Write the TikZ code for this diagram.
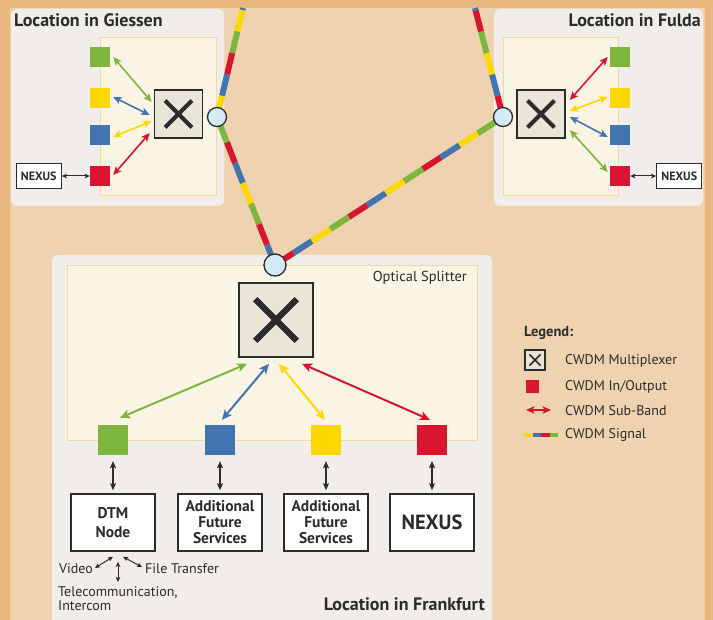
\documentclass[tikz,border=0pt]{standalone}
\usepackage{fontspec}
\setmainfont{PT Sans}
\usepackage{xcolor}
\definecolor{cFrame}{HTML}{E8B87E}
\definecolor{cBack}{HTML}{EFD3B0}
\definecolor{cPanel}{HTML}{F0EDEA}
\definecolor{cInner}{HTML}{FAF4E5}
\definecolor{cInnerLine}{HTML}{EEDA9A}
\definecolor{cGreen}{HTML}{7DB63F}
\definecolor{cYellow}{HTML}{FDD800}
\definecolor{cBlue}{HTML}{4274B0}
\definecolor{cRed}{HTML}{D9142E}
\definecolor{cMux}{HTML}{E9E6D9}
\definecolor{cJoint}{HTML}{D4EAF8}
\definecolor{cText}{HTML}{2B2B2B}
\usepackage{tikz}
\usetikzlibrary{positioning,arrows.meta}
\tikzset{
  panel/.style={fill=cPanel,rounded corners=6pt},
  inner-box/.style={fill=cInner,draw=cInnerLine,line width=1pt},
  mux/.style={draw=cText,line width=1.6pt,fill=cMux,inner sep=0pt,minimum size=#1pt,
    path picture={
      \draw[cText,line width=#1*0.085pt,shorten <=#1*0.31pt,shorten >=#1*0.31pt]
        (path picture bounding box.south west) -- (path picture bounding box.north east);
      \draw[cText,line width=#1*0.085pt,shorten <=#1*0.31pt,shorten >=#1*0.31pt]
        (path picture bounding box.north west) -- (path picture bounding box.south east);}},
  io-sq/.style={inner sep=0pt,minimum size=#1pt},
  junction/.style={circle,draw=cText,line width=1.3pt,fill=cJoint,inner sep=0pt,minimum size=#1pt},
  % one colour per wavelength, the four dash patterns interleave
  fiber/.style n args={4}{line width=6pt,
    postaction={draw=#1,dash pattern=on 22pt off 66pt},
    postaction={draw=#2,dash pattern=on 22pt off 66pt,dash phase=66pt},
    postaction={draw=#3,dash pattern=on 22pt off 66pt,dash phase=44pt},
    postaction={draw=#4,dash pattern=on 22pt off 66pt,dash phase=22pt}},
  fiber-key/.style={line width=3.6pt,
    postaction={draw=cYellow,dash pattern=on 8.5pt off 25.5pt},
    postaction={draw=cBlue,dash pattern=on 8.5pt off 25.5pt,dash phase=25.5pt},
    postaction={draw=cRed,dash pattern=on 8.5pt off 25.5pt,dash phase=17pt},
    postaction={draw=cGreen,dash pattern=on 8.5pt off 25.5pt,dash phase=8.5pt}},
  band/.style={{Stealth[length=10pt,width=9pt,inset=2.5pt]}-{Stealth[length=10pt,width=9pt,inset=2.5pt]},
    line width=2pt,draw=#1},
  band-s/.style={{Stealth[length=8.5pt,width=7.5pt,inset=2pt]}-{Stealth[length=8.5pt,width=7.5pt,inset=2pt]},
    line width=1.6pt,draw=#1},
  io-arrow/.style={{Stealth[length=7pt,width=6pt,inset=1.5pt]}-{Stealth[length=7pt,width=6pt,inset=1.5pt]},
    line width=1.3pt,draw=cText},
  io-arrow-s/.style={{Stealth[length=5pt,width=4.5pt,inset=1pt]}-{Stealth[length=5pt,width=4.5pt,inset=1pt]},
    line width=1pt,draw=cText},
  title-txt/.style={font=\fontsize{18}{20}\selectfont\bfseries,text=cText,inner sep=0pt},
  note-txt/.style={font=\fontsize{14}{14}\selectfont,text=cText,inner sep=0pt},
  svc-box/.style={draw=cText,line width=1.6pt,fill=white,minimum width=84pt,minimum height=57pt,
    align=center,inner sep=2pt,text=cText,font=\fontsize{15.5}{16}\selectfont\bfseries},
  nexus-s/.style={draw=cText,line width=1.2pt,fill=white,minimum width=45pt,minimum height=25pt,
    inner sep=1pt,text=cText,font=\fontsize{12}{13}\selectfont\bfseries},
}

\begin{document}
\begin{tikzpicture}[x=1pt,y=-1pt]
  \useasboundingbox (0,0) rectangle (713,620);
  \fill[cBack] (0,0) rectangle (713,620);
  \fill[cFrame] (0,0) rectangle (10,620) (0,0) rectangle (713,8) (705,0) rectangle (713,620);

  % sites
  \fill[panel] (11,9) rectangle (224,206);
  \fill[panel] (494,9) rectangle (703,206);
  \fill[panel] (52,255) rectangle (492,640);
  \filldraw[inner-box] (100,38) rectangle (216,196);
  \filldraw[inner-box] (503,38) rectangle (618,196);
  \filldraw[inner-box] (67,266) rectangle (477,441);

  \node[title-txt,anchor=west] (tGi) at (14,20) {Location in Giessen};
  \node[title-txt,anchor=east] (tFu) at (701,20) {Location in Fulda};
  \node[title-txt,anchor=east] (tFf) at (485,604) {Location in Frankfurt};
  \node[note-txt,anchor=east,font=\fontsize{14.5}{15}\selectfont] (tSplit) at (467,278) {Optical Splitter};

  % fibre ring
  \coordinate (jGi) at (217,117);
  \coordinate (jFu) at (503,117);
  \coordinate (jFf) at (275,265);
  \coordinate (upGi) at (243,8);
  \coordinate (upFu) at (475,8);
  \path[fiber={cYellow}{cBlue}{cRed}{cGreen}] (jGi) -- (upGi);
  \path[fiber={cRed}{cBlue}{cYellow}{cGreen}] (jFu) -- (upFu);
  \path[fiber={cBlue}{cRed}{cGreen}{cYellow}] (jFf) -- (jGi);
  \path[fiber={cRed}{cBlue}{cYellow}{cGreen}] (jFf) -- (jFu);
  \node[junction=19] (cGi) at (jGi) {};
  \node[junction=19] (cFu) at (jFu) {};
  \node[junction=22] (cFf) at (jFf) {};

  % Giessen
  \node[mux=48] (giMux) at (178.5,114) {};
  \node[io-sq=20,fill=cGreen]  (giG) at (100,57) {};
  \node[io-sq=20,fill=cYellow] (giY) at (100,98) {};
  \node[io-sq=20,fill=cBlue]   (giB) at (100,135) {};
  \node[io-sq=20,fill=cRed]    (giR) at (100,176) {};
  \node[nexus-s,left=28pt of giR] (giNx) {NEXUS};
  \draw[band-s=cGreen]  ([xshift=3pt]giG.east) -- ([xshift=-2pt,yshift=12pt]giMux.west);
  \draw[band-s=cBlue]   ([xshift=3pt,yshift=1pt]giY.east) -- ([xshift=-4pt,yshift=-1pt]giMux.west);
  \draw[band-s=cYellow] ([xshift=3pt,yshift=-2pt]giB.east) -- ([xshift=-2pt,yshift=-7pt]giMux.west);
  \draw[band-s=cRed]    ([xshift=3pt,yshift=1pt]giR.east) -- ([xshift=-4pt,yshift=-19pt]giMux.west);
  \draw[io-arrow-s] (giNx) -- (giR);

  % Fulda
  \node[mux=48] (fuMux) at (541,114) {};
  \node[io-sq=20,fill=cGreen]  (fuG) at (620,57) {};
  \node[io-sq=20,fill=cYellow] (fuY) at (620,98) {};
  \node[io-sq=20,fill=cBlue]   (fuB) at (620,135) {};
  \node[io-sq=20,fill=cRed]    (fuR) at (620,176) {};
  \node[nexus-s,right=26pt of fuR] (fuNx) {NEXUS};
  \draw[band-s=cRed]    ([xshift=4pt,yshift=14pt]fuMux.east) -- ([xshift=-2pt]fuG.west);
  \draw[band-s=cYellow] ([xshift=4pt,yshift=3pt]fuMux.east) -- ([xshift=-2pt,yshift=1pt]fuY.west);
  \draw[band-s=cBlue]   ([xshift=4pt,yshift=-3pt]fuMux.east) -- ([xshift=-2pt,yshift=-2pt]fuB.west);
  \draw[band-s=cGreen]  ([xshift=4pt,yshift=-16pt]fuMux.east) -- ([xshift=-2pt,yshift=4pt]fuR.west);
  \draw[io-arrow-s] (fuR) -- (fuNx);

  % Frankfurt
  \node[mux=74] (ffMux) at (276,320) {};
  \node[io-sq=30,fill=cGreen]  (ffG) at (113,440) {};
  \node[io-sq=30,fill=cBlue]   (ffB) at (220,440) {};
  \node[io-sq=30,fill=cYellow] (ffY) at (326,440) {};
  \node[io-sq=30,fill=cRed]    (ffR) at (432,440) {};
  \draw[band=cGreen]  ([xshift=-29pt,yshift=-6pt]ffMux.south) -- ([xshift=7pt,yshift=7pt]ffG.north);
  \draw[band=cBlue]   ([xshift=-7pt,yshift=-6pt]ffMux.south) -- ([xshift=2pt,yshift=5pt]ffB.north);
  \draw[band=cYellow] ([xshift=3pt,yshift=-6pt]ffMux.south) -- ([xshift=-1pt,yshift=5pt]ffY.north);
  \draw[band=cRed]    ([xshift=26pt,yshift=-6pt]ffMux.south) -- ([xshift=-2pt,yshift=5pt]ffR.north);

  \node[svc-box,below=38pt of ffG] (dtm) {DTM\\[3pt]Node};
  \node[svc-box,below=38pt of ffB] (svcA) {Additional\\Future\\Services};
  \node[svc-box,below=38pt of ffY] (svcB) {Additional\\Future\\Services};
  \node[svc-box,below=38pt of ffR,font=\fontsize{20.5}{22}\selectfont\bfseries] (nexus) {NEXUS};
  \foreach \s/\b in {ffG/dtm,ffB/svcA,ffY/svcB,ffR/nexus}
    \draw[io-arrow,shorten <=6pt,shorten >=3pt] (\s) -- (\b);

  \node[note-txt,anchor=east] (video) at (93,569) {Video};
  \node[note-txt,anchor=west] (file) at (145,569) {File Transfer};
  \node[note-txt,anchor=north west,align=left] (tele) at (58,586) {Telecommunication,\\Intercom};
  \draw[io-arrow-s] ([yshift=-5pt]dtm.south) -- ([xshift=2pt,yshift=1pt]video.east);
  \draw[io-arrow-s] ([xshift=5pt,yshift=-10pt]dtm.south) -- ([xshift=60pt,yshift=4pt]tele.north west);
  \draw[io-arrow-s] ([xshift=10pt,yshift=-5pt]dtm.south) -- ([xshift=-3pt,yshift=2pt]file.west);

  % legend
  \node[note-txt,font=\fontsize{14.5}{15}\selectfont\bfseries,anchor=west] (lgTitle) at (524,333) {Legend:};
  \node[mux=20,line width=1.2pt] (lgMux) at (535,360) {};
  \node[io-sq=13,fill=cRed] (lgSq) at (532.5,386.5) {};
  \coordinate (lgA1) at (526,410);
  \coordinate (lgA2) at (551,410);
  \coordinate (lgS1) at (524,435);
  \coordinate (lgS2) at (558,435);
  \draw[band-s=cRed,line width=1.5pt] (lgA1) -- (lgA2);
  \path[fiber-key] (lgS1) -- (lgS2);
  \node[note-txt,anchor=west] (lgT1) at (565,361) {CWDM Multiplexer};
  \node[note-txt,anchor=west] (lgT2) at (565,387) {CWDM In/Output};
  \node[note-txt,anchor=west] (lgT3) at (565,411) {CWDM Sub-Band};
  \node[note-txt,anchor=west] (lgT4) at (565,435) {CWDM Signal};
\end{tikzpicture}
\end{document}
